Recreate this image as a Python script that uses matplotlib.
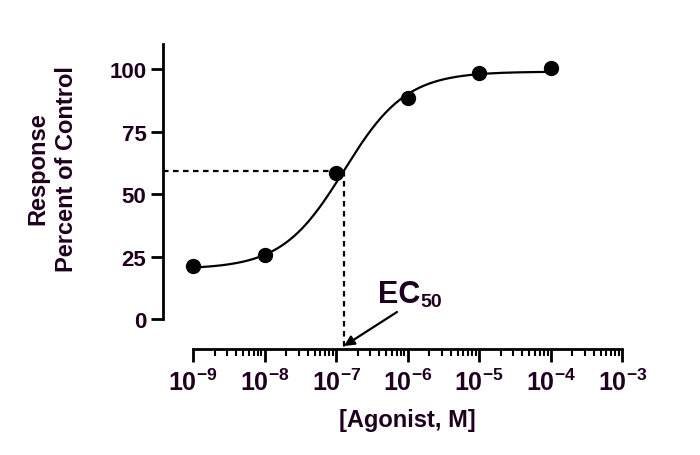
import numpy as np
import matplotlib
matplotlib.use("Agg")
import matplotlib.pyplot as plt
from matplotlib.ticker import FixedLocator, LogFormatterSciNotation

# measured responses
conc = [1e-9, 1e-8, 1e-7, 1e-6, 1e-5, 1e-4]
response = [21.2, 25.6, 58.4, 88.4, 98.4, 100.4]

# fitted sigmoid parameters
fit_bottom = 20.0
fit_top = 99.0
log_ec50 = -6.89
hill = 1.0

y_ticks = [0, 25, 50, 75, 100]
x_decades = list(range(-9, -2))
ec50_level = 59.2

txt_color = "#1e001e"
plt.rcParams["font.family"] = ["Liberation Sans", "DejaVu Sans"]
plt.rcParams["font.weight"] = "bold"
plt.rcParams["mathtext.fontset"] = "custom"
plt.rcParams["mathtext.rm"] = "Liberation Sans:bold"
plt.rcParams["mathtext.it"] = "Liberation Sans:bold"
plt.rcParams["mathtext.bf"] = "Liberation Sans:bold"
plt.rcParams["mathtext.default"] = "rm"

fig = plt.figure(figsize=(7, 4.56), dpi=100)
ax = fig.add_axes([0.233, 0.2325, 0.656, 0.6685])

# fitted curve
xs = np.logspace(-9, -4, 300)
ys = fit_bottom + (fit_top - fit_bottom) / (1 + 10 ** ((log_ec50 - np.log10(xs)) * hill))
ax.plot(xs, ys, color="black", lw=1.6, zorder=3)
ax.plot(conc, response, "o", color="black", ms=10, zorder=4)

# EC50 guide lines
ec50 = 10 ** log_ec50
ax.plot([10 ** -9.42, ec50], [ec50_level, ec50_level], color="black", lw=1.6,
        ls=(0, (2.5, 2)), zorder=2, clip_on=False)
ax.plot([ec50, ec50], [ec50_level, -12], color="black", lw=1.6,
        ls=(0, (2.5, 2)), zorder=2, clip_on=False)

ax.annotate("", xy=(ec50, -10.8), xytext=(10 ** -6.15, 2.8),
            arrowprops=dict(arrowstyle="-|>,head_length=0.6,head_width=0.3",
                            color="black", lw=1.6, shrinkA=0, shrinkB=0))
ec_txt = ax.text(10 ** -6.41, 6.8, "EC", fontsize=22, fontweight="bold",
                 color=txt_color, va="baseline")
ax.annotate("50", xy=(1, 0), xycoords=ec_txt, xytext=(0, -1),
            textcoords="offset points", fontsize=14, fontweight="bold",
            color=txt_color, va="bottom", ha="left")

ax.set_xscale("log")
ax.set_xlim(10 ** -9.42, 1e-3)
ax.set_ylim(-12, 110)

for s in ["top", "right"]:
    ax.spines[s].set_visible(False)
ax.spines["left"].set_bounds(0, 110)
ax.spines["bottom"].set_bounds(1e-9, 1e-3)
ax.spines["left"].set_linewidth(2)
ax.spines["bottom"].set_linewidth(2)

ax.set_yticks(y_ticks)
ax.xaxis.set_major_locator(FixedLocator([10.0 ** k for k in x_decades]))
minors = [m * 10.0 ** k for k in x_decades[:-1] for m in range(2, 10)]
ax.xaxis.set_minor_locator(FixedLocator(minors))
ax.xaxis.set_major_formatter(LogFormatterSciNotation())
ax.tick_params(axis="both", which="major", width=2, length=9,
               labelcolor=txt_color)
ax.tick_params(axis="x", which="major", labelsize=18, pad=5)
ax.tick_params(axis="y", which="major", labelsize=16, pad=3)
ax.tick_params(axis="x", which="minor", width=1.5, length=5)
for lab in ax.get_xticklabels() + ax.get_yticklabels():
    lab.set_fontweight("bold")

ax.set_xlabel("[Agonist, M]", fontsize=17, fontweight="bold", color=txt_color)
ax.xaxis.set_label_coords(0.532, -0.195)
fig.text(0.075, 0.63, "Response\nPercent of Control", rotation=90,
         fontsize=17, fontweight="bold", color=txt_color, linespacing=1.3,
         ha="center", va="center", multialignment="center")

fig.savefig("out.png", dpi=100)
